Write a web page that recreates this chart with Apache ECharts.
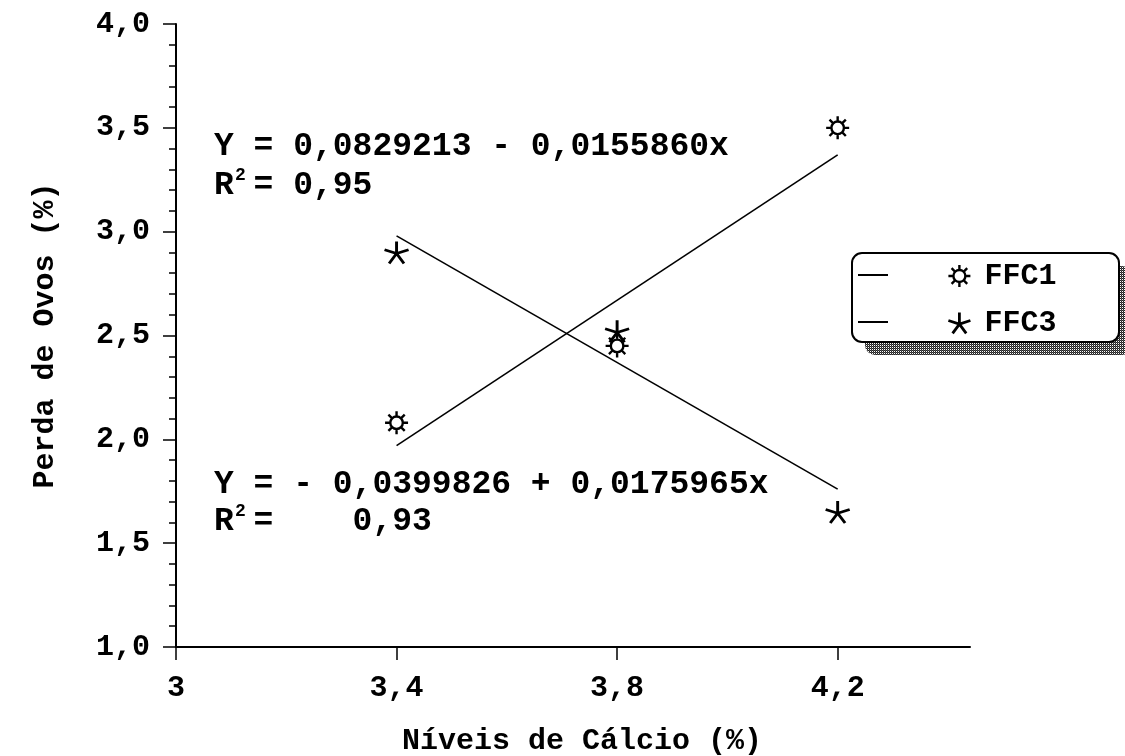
<!DOCTYPE html>
<html>
<head>
<meta charset="utf-8">
<script src="https://cdn.jsdelivr.net/npm/echarts@6/dist/echarts.min.js"></script>
<style>
  html, body { margin: 0; padding: 0; background: #fff; }
  #chart { width: 1125px; height: 756px; }
</style>
</head>
<body>
<div id="chart"></div>
<script>
// Calcium levels (%) and egg loss (%) per treatment
const calcio = [3.4, 3.8, 4.2];
const ffc1 = [2.08, 2.45, 3.50];
const ffc3 = [2.90, 2.52, 1.65];

// fitted regression lines (end points at 3,4 and 4,2)
const fitX = [3.4, 4.2];
const fitFFC1 = [1.97, 3.37];
const fitFFC3 = [2.98, 1.76];

const xTicks = [3, 3.4, 3.8, 4.2];

const eqFFC3 = ['Y = 0,0829213 - 0,0155860x', 'R = 0,95'];
const eqFFC1 = ['Y = - 0,0399826 + 0,0175965x', 'R =    0,93'];

const FONT = '"Liberation Mono", "DejaVu Sans Mono", monospace';

// open sun marker: ring with eight short rays
const SUN = 'path://M18,12 A6,6 0 1,1 6,12 A6,6 0 1,1 18,12 Z' +
  ' M19,12 L23,12 M5,12 L1,12 M12,5 L12,1 M12,19 L12,23' +
  ' M16.9,16.9 L19.8,19.8 M7.1,7.1 L4.2,4.2 M16.9,7.1 L19.8,4.2 M7.1,16.9 L4.2,19.8';
// five-armed asterisk
const STAR = 'path://M12,12 L12,1 M12,12 L22.5,8.6 M12,12 L1.5,8.6 M12,12 L5.5,20.9 M12,12 L18.5,20.9';

const pairs = (xs, ys) => xs.map((x, i) => [x, ys[i]]);
const comma = v => Number.isInteger(v) ? String(v) : v.toFixed(1).replace('.', ',');

// hatched fill for the legend's drop shadow
function hatch() {
  const c = document.createElement('canvas');
  c.width = 2; c.height = 2;
  const g = c.getContext('2d');
  g.fillStyle = '#fff'; g.fillRect(0, 0, 2, 2);
  g.fillStyle = '#222'; g.fillRect(0, 0, 1, 1); g.fillRect(1, 1, 1, 1);
  g.fillStyle = '#555'; g.fillRect(1, 0, 1, 1);
  return c;
}

const chart = echarts.init(document.getElementById('chart'), null, { renderer: 'canvas' });

const txt = (x, y, text, size) => ({
  type: 'text', x: x, y: y, z: 10,
  style: { text: text, font: 'bold ' + size + 'px ' + FONT, fill: '#000', textVerticalAlign: 'middle' }
});

const sunStyle = { color: '#fff', borderColor: '#000', borderWidth: 2.4, opacity: 1 };
const starStyle = { color: '#fff', borderColor: '#000', borderWidth: 2.8, opacity: 1 };

chart.setOption({
  backgroundColor: '#fff',
  animation: false,
  grid: { left: 176, top: 24, width: 794, bottom: 109, containLabel: false, outerBoundsMode: 'none' },
  legend: {
    orient: 'vertical', left: 947, top: 261, padding: 0, itemGap: 17, itemWidth: 22, itemHeight: 22,
    zlevel: 1, selectedMode: false,
    data: [
      { name: 'FFC1', icon: SUN, itemStyle: sunStyle },
      { name: 'FFC3', icon: STAR, itemStyle: starStyle }
    ],
    textStyle: { fontFamily: FONT, fontWeight: 'bold', fontSize: 30, color: '#000', padding: [0, 0, 0, 9] }
  },
  xAxis: {
    type: 'value', min: 3, max: 4.44,
    name: 'Níveis de Cálcio (%)', nameLocation: 'middle', nameGap: 79,
    nameTextStyle: { fontFamily: FONT, fontWeight: 'bold', fontSize: 30, color: '#000', padding: [0, 0, 0, 18] },
    axisLine: { show: true, onZero: false, lineStyle: { color: '#000', width: 2 } },
    axisTick: { show: true, length: 13, customValues: xTicks, lineStyle: { color: '#000', width: 1.5 } },
    axisLabel: { customValues: xTicks, margin: 26, fontFamily: FONT, fontWeight: 'bold', fontSize: 30, color: '#000',
      formatter: v => comma(v) },
    splitLine: { show: false }
  },
  yAxis: {
    type: 'value', min: 1, max: 4, interval: 0.5,
    name: 'Perda de Ovos (%)', nameLocation: 'middle', nameGap: 116,
    nameTextStyle: { fontFamily: FONT, fontWeight: 'bold', fontSize: 30, color: '#000' },
    axisLine: { show: true, onZero: false, lineStyle: { color: '#000', width: 2 } },
    axisTick: { show: true, length: 13, lineStyle: { color: '#000', width: 1.5 } },
    minorTick: { show: true, splitNumber: 5, length: 7, lineStyle: { color: '#000', width: 1.5 } },
    axisLabel: { margin: 26, fontFamily: FONT, fontWeight: 'bold', fontSize: 30, color: '#000',
      formatter: v => v.toFixed(1).replace('.', ',') },
    splitLine: { show: false }
  },
  series: [
    { name: 'FFC1 ajuste', type: 'line', data: pairs(fitX, fitFFC1), symbol: 'none',
      lineStyle: { color: '#000', width: 1.6 } },
    { name: 'FFC3 ajuste', type: 'line', data: pairs(fitX, fitFFC3), symbol: 'none',
      lineStyle: { color: '#000', width: 1.6 } },
    { name: 'FFC1', type: 'scatter', data: pairs(calcio, ffc1), symbol: SUN, symbolSize: 23,
      itemStyle: sunStyle, z: 5 },
    { name: 'FFC3', type: 'scatter', data: pairs(calcio, ffc3), symbol: STAR, symbolSize: [24, 22],
      itemStyle: starStyle, z: 6 }
  ],
  graphic: [
    // regression equations
    txt(214, 147, eqFFC3[0], 33),
    txt(214, 186, eqFFC3[1], 33),
    txt(235, 175, '2', 18),
    txt(214, 485, eqFFC1[0], 33),
    txt(214, 522, eqFFC1[1], 33),
    txt(235, 511, '2', 18),
    // legend frame with shaded shadow and line keys
    { type: 'rect', z: 1, shape: { x: 865, y: 266, width: 267, height: 89, r: 10 },
      style: { fill: { image: hatch(), repeat: 'repeat' }, stroke: null } },
    { type: 'rect', z: 2, shape: { x: 852, y: 253, width: 267, height: 89, r: 10 },
      style: { fill: '#fff', stroke: '#000', lineWidth: 2 } },
    { type: 'line', z: 3, shape: { x1: 858, y1: 275, x2: 888, y2: 275 }, style: { stroke: '#000', lineWidth: 2 } },
    { type: 'line', z: 3, shape: { x1: 858, y1: 322, x2: 888, y2: 322 }, style: { stroke: '#000', lineWidth: 2 } }
  ]
});
</script>
</body>
</html>
